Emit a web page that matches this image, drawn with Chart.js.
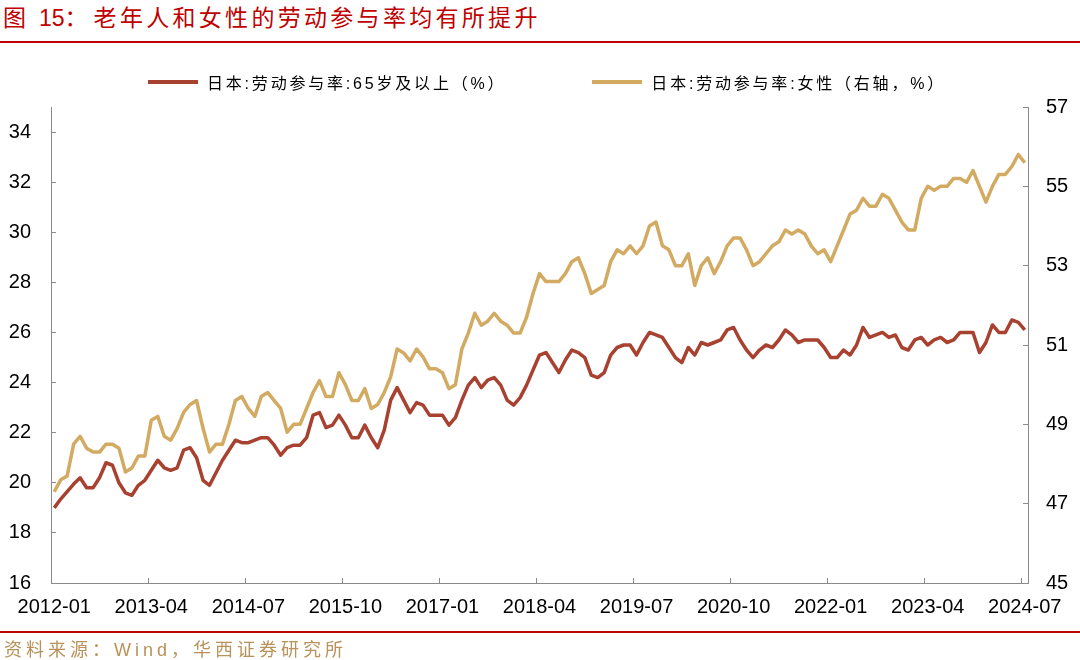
<!DOCTYPE html>
<html>
<head>
<meta charset="utf-8">
<script src="https://cdn.jsdelivr.net/npm/chart.js@4.4.1/dist/chart.umd.min.js"></script>
<style>
body { margin: 0; background: #fff; }
#wrap { position: relative; width: 1080px; height: 660px; overflow: hidden; font-family: "Liberation Sans", "Noto Sans CJK SC", sans-serif; }
#chart { position: absolute; left: 0; top: 0; }
.title { position: absolute; left: 3px; top: 5px; font-size: 23px; line-height: 26px; color: #c00000; letter-spacing: 3.3px; white-space: nowrap; }
.title .num { letter-spacing: 0; margin-right: 6px; }
.rule { position: absolute; left: 0; width: 1080px; height: 2px; background: #c00000; }
#legend { position: absolute; left: 148px; top: 72px; height: 20px; display: flex; align-items: center; white-space: nowrap; }
.item { display: flex; align-items: center; margin-right: 86px; }
.mark { width: 50px; height: 4px; margin-right: 9px; }
.lt { font-size: 16px; letter-spacing: 2.8px; color: #000; }
.src { position: absolute; left: 4px; top: 639px; font-size: 18px; line-height: 22px; letter-spacing: 4px; color: #b8925a; white-space: nowrap; }
</style>
</head>
<body>
<div id="wrap">
  <div class="title">图 <span class="num">15：</span>老年人和女性的劳动参与率均有所提升</div>
  <div class="rule" style="top:41px"></div>
  <canvas id="chart" width="1080" height="660"></canvas>
  <div id="legend"></div>
  <div class="rule" style="top:631px"></div>
  <div class="src">资料来源：Wind，华西证券研究所</div>
</div>
<script>
// monthly categories 2012-01 .. 2024-07
const firstYear = 2012;
const monthCount = 151;
const months = [];
for (let k = 0; k < monthCount; k++) {
    const y = firstYear + Math.floor(k / 12);
    const m = (k % 12) + 1;
    months.push(y + '-' + (m < 10 ? '0' + m : m));
}

const tickLabels = ['2012-01', '2013-04', '2014-07', '2015-10', '2017-01', '2018-04',
    '2019-07', '2020-10', '2022-01', '2023-04', '2024-07'];
const leftTicks = [16, 18, 20, 22, 24, 26, 28, 30, 32, 34];
const rightTicks = [45, 47, 49, 51, 53, 55, 57];

const seriesNames = ['日本:劳动参与率:65岁及以上（%）', '日本:劳动参与率:女性（右轴，%）'];

// 65岁及以上 (left axis)
const elderly = [
    19.0, 19.35, 19.65, 19.95, 20.2, 19.8, 19.8, 20.2, 20.8, 20.7, 20.0, 19.6,
    19.5, 19.9, 20.1, 20.5, 20.9, 20.6, 20.5, 20.6, 21.3, 21.4, 21.0, 20.1,
    19.9, 20.4, 20.9, 21.3, 21.7, 21.6, 21.6, 21.7, 21.8, 21.8, 21.5, 21.1,
    21.4, 21.5, 21.5, 21.8, 22.7, 22.8, 22.2, 22.3, 22.7, 22.3, 21.8, 21.8,
    22.3, 21.8, 21.4, 22.1, 23.3, 23.8, 23.3, 22.8, 23.2, 23.1, 22.7, 22.7,
    22.7, 22.3, 22.6, 23.3, 23.9, 24.2, 23.8, 24.1, 24.2, 23.9, 23.3, 23.1,
    23.4, 23.9, 24.5, 25.1, 25.2, 24.8, 24.4, 24.9, 25.3, 25.2, 25.0, 24.3,
    24.2, 24.4, 25.1, 25.4, 25.5, 25.5, 25.1, 25.6, 26.0, 25.9, 25.8, 25.4,
    25.0, 24.8, 25.4, 25.1, 25.6, 25.5, 25.6, 25.7, 26.1, 26.2, 25.7, 25.3,
    25.0, 25.3, 25.5, 25.4, 25.7, 26.1, 25.9, 25.6, 25.7, 25.7, 25.7, 25.4,
    25.0, 25.0, 25.3, 25.1, 25.5, 26.2, 25.8, 25.9, 26.0, 25.8, 25.9, 25.4,
    25.3, 25.7, 25.8, 25.5, 25.7, 25.8, 25.6, 25.7, 26.0, 26.0, 26.0, 25.2,
    25.6, 26.3, 26.0, 26.0, 26.5, 26.4, 26.1
];

// 女性 (right axis)
const female = [
    47.3, 47.6, 47.7, 48.5, 48.7, 48.4, 48.3, 48.3, 48.5, 48.5, 48.4, 47.8,
    47.9, 48.2, 48.2, 49.1, 49.2, 48.7, 48.6, 48.9, 49.3, 49.5, 49.6, 48.9,
    48.3, 48.5, 48.5, 49.0, 49.6, 49.7, 49.4, 49.2, 49.7, 49.8, 49.6, 49.4,
    48.8, 49.0, 49.0, 49.4, 49.8, 50.1, 49.7, 49.7, 50.3, 50.0, 49.6, 49.6,
    49.9, 49.4, 49.5, 49.8, 50.2, 50.9, 50.8, 50.6, 50.9, 50.7, 50.4, 50.4,
    50.3, 49.9, 50.0, 50.9, 51.3, 51.8, 51.5, 51.6, 51.8, 51.6, 51.5, 51.3,
    51.3, 51.7, 52.3, 52.8, 52.6, 52.6, 52.6, 52.8, 53.1, 53.2, 52.8, 52.3,
    52.4, 52.5, 53.1, 53.4, 53.3, 53.5, 53.3, 53.5, 54.0, 54.1, 53.5, 53.4,
    53.0, 53.0, 53.3, 52.5, 53.0, 53.2, 52.8, 53.1, 53.5, 53.7, 53.7, 53.4,
    53.0, 53.1, 53.3, 53.5, 53.6, 53.9, 53.8, 53.9, 53.8, 53.5, 53.3, 53.4,
    53.1, 53.5, 53.9, 54.3, 54.4, 54.7, 54.5, 54.5, 54.8, 54.7, 54.4, 54.1,
    53.9, 53.9, 54.7, 55.0, 54.9, 55.0, 55.0, 55.2, 55.2, 55.1, 55.4, 55.0,
    54.6, 55.0, 55.3, 55.3, 55.5, 55.8, 55.6
];

const RED = '#a8412f';
const GOLD = '#d2aa62';
const AXIS = '#8a8a8a';
const tickFont = { family: 'Liberation Sans', size: 20 };

const chart = new Chart(document.getElementById('chart'), {
    type: 'line',
    data: {
        labels: months,
        datasets: [
            { label: seriesNames[0], data: elderly, yAxisID: 'y', borderColor: RED, backgroundColor: RED,
              borderWidth: 3.5, pointRadius: 0, tension: 0, borderJoinStyle: 'round' },
            { label: seriesNames[1], data: female, yAxisID: 'y1', borderColor: GOLD, backgroundColor: GOLD,
              borderWidth: 3.5, pointRadius: 0, tension: 0, borderJoinStyle: 'round' }
        ]
    },
    options: {
        responsive: false,
        animation: false,
        layout: { padding: { top: 107, left: 0, right: 0, bottom: 0 } },
        plugins: { legend: { display: false }, tooltip: { enabled: false } },
        scales: {
            x: {
                type: 'category',
                offset: true,
                grid: {
                    offset: true, drawOnChartArea: false, tickLength: -5, tickWidth: 1,
                    tickColor: ctx => (ctx.index !== undefined && tickLabels.includes(months[ctx.index])) ? AXIS : 'rgba(0,0,0,0)'
                },
                border: { color: AXIS, width: 1 },
                ticks: {
                    autoSkip: false, maxRotation: 0, minRotation: 0, padding: 17, color: '#000', font: tickFont,
                    callback: function (v) { const l = this.getLabelForValue(v); return tickLabels.includes(l) ? l : ''; }
                },
                afterFit: s => { s.height = 77; }
            },
            y: {
                position: 'left', min: 16, max: 35,
                afterBuildTicks: s => { s.ticks = leftTicks.map(v => ({ value: v })); },
                grid: { drawOnChartArea: false, tickLength: -5, color: AXIS },
                border: { color: AXIS, width: 1 },
                ticks: { padding: 25, color: '#000', font: tickFont },
                afterFit: s => { s.width = 51; }
            },
            y1: {
                position: 'right', min: 45, max: 57,
                afterBuildTicks: s => { s.ticks = rightTicks.map(v => ({ value: v })); },
                grid: { drawOnChartArea: false, tickLength: -5, color: AXIS },
                border: { color: AXIS, width: 1 },
                ticks: { padding: 23, color: '#000', font: tickFont },
                afterFit: s => { s.width = 52; }
            }
        }
    }
});

// html legend built from the datasets
const legendEl = document.getElementById('legend');
chart.data.datasets.forEach(ds => {
    const item = document.createElement('div');
    item.className = 'item';
    const mark = document.createElement('span');
    mark.className = 'mark';
    mark.style.background = ds.borderColor;
    const txt = document.createElement('span');
    txt.className = 'lt';
    txt.textContent = ds.label;
    item.appendChild(mark);
    item.appendChild(txt);
    legendEl.appendChild(item);
});
</script>
</body>
</html>
